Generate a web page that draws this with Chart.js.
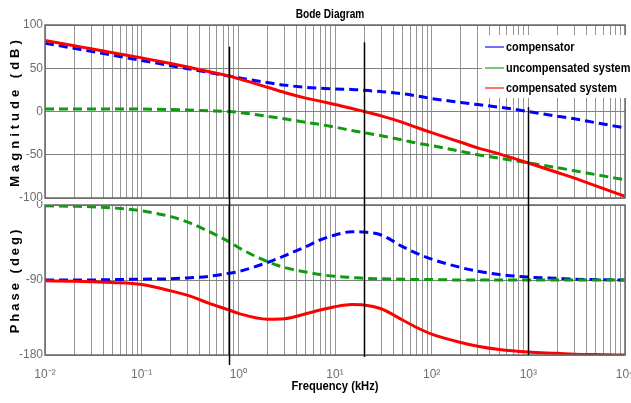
<!DOCTYPE html>
<html>
<head>
<meta charset="utf-8">
<script src="https://cdn.jsdelivr.net/npm/chart.js@4/dist/chart.umd.min.js"></script>
<style>
  body { margin: 0; background: #fff; }
  #wrap { position: relative; width: 631px; height: 403px; }
  canvas { position: absolute; left: 0; }
</style>
</head>
<body>
<div id="wrap">
  <canvas id="magChart" width="631" height="201" style="top:0"></canvas>
  <canvas id="phaseChart" width="631" height="202" style="top:201px"></canvas>
</div>
<script>
// Frequency points (kHz)
const freq = [0.01, 0.02, 0.03, 0.05, 0.1, 0.2, 0.3, 0.5, 0.8, 1, 2, 3, 5, 7, 10, 15, 20, 30, 50, 70, 100, 200, 300, 500, 1000, 2000, 3000, 5000, 10000];

// Magnitude (dB)
const compMag   = [79, 73, 69.5, 65, 59, 53, 49.5, 45, 41, 39, 33.5, 30.5, 28, 27, 26, 25.5, 24.5, 23, 20.5, 18, 15, 10.5, 8, 5, 0, -5.5, -8.5, -13, -19];
const uncompMag = [3, 3, 3, 3, 2.8, 2.3, 1.8, 0.8, 0, -1, -5.5, -8.5, -12.5, -15, -18, -22, -24.5, -28, -33, -36.5, -39.5, -46, -50, -54, -59.5, -65, -68.5, -73, -79];
const compdMag  = [82, 76, 72.5, 68, 62, 55.5, 51.5, 46, 41, 38, 28, 22, 15.5, 12, 8, 3.5, 0, -5, -12.5, -18.5, -24.5, -35.5, -42, -49, -59.5, -70.5, -77, -86, -98];

// Phase (deg)
const compPhase   = [-90, -90, -90, -89.5, -89, -88.5, -87.5, -85.5, -82, -80, -69, -61, -50, -42, -36, -32, -32.5, -36, -50, -58, -65, -75, -79.5, -83.5, -86.5, -88, -89, -89.5, -90];
const uncompPhase = [-1, -1.5, -2, -3.5, -7, -14, -20.5, -32, -44, -51, -68, -75, -80.5, -83.5, -85.5, -87, -88, -88.5, -89, -89.5, -89.5, -90, -90, -90, -90, -90, -90, -90, -90];
const compdPhase  = [-91, -91.5, -92, -93, -95.5, -103, -108.5, -118, -126, -130, -137, -136.5, -130.5, -126, -122, -119.5, -120, -124.5, -138, -147, -155, -165, -169.5, -173.5, -176.5, -178, -179, -179.5, -180];

const seriesNames = ["compensator", "uncompensated system", "compensated system"];
const seriesColors = ["#0000ff", "#119a11", "#ff0000"];

// axis ticks
const decades = [0.01, 0.1, 1, 10, 100, 1000, 10000];
const decadeLabels = ["10\u207B\u00B2", "10\u207B\u00B9", "10\u2070", "10\u00B9", "10\u00B2", "10\u00B3", "10\u2074"];
const magTicks = [-100, -50, 0, 50, 100];
const phaseTicks = [-180, -90, 0];

// black marker lines: frequency, where they start in the magnitude plot (dB), extra length below phase plot (px)
const markerFreq = [0.8, 20, 1000];
const markerTopDb = [75, 80, 5];
const markerBelow = [10, 2, 0];

// log grid lines 1..9 per decade
const gridFreqs = [];
decades.slice(0, -1).forEach((d) => {
  for (let m = 1; m < 10; m++) gridFreqs.push(+(d * m).toPrecision(3));
});
gridFreqs.push(10000);

const FONT = "'Liberation Sans', Arial, sans-serif";

function toPoints(ys) {
  return freq.map((f, i) => ({ x: f, y: ys[i] }));
}

function makeDatasets(values) {
  return values.map((ys, i) => ({
    label: seriesNames[i],
    data: toPoints(ys),
    borderColor: seriesColors[i],
    borderWidth: 3,
    borderDash: i < 2 ? [9, 5] : [],
    pointRadius: 0,
    cubicInterpolationMode: "monotone",
    order: 3 - i,
  }));
}

function decadeLabel(v) {
  const idx = decades.findIndex((d) => Math.abs(Math.log10(d) - Math.log10(v)) < 1e-6);
  return idx >= 0 ? decadeLabels[idx] : "";
}

function xScale(showLabels, height) {
  return {
    type: "logarithmic",
    min: 0.01,
    max: 10000,
    afterBuildTicks: (s) => {
      s.ticks = gridFreqs.map((v) => ({ value: v }));
    },
    afterFit: (s) => {
      s.height = height;
      s.paddingLeft = 0;
      s.paddingRight = 0;
    },
    ticks: {
      display: showLabels,
      autoSkip: false,
      maxRotation: 0,
      padding: 12,
      color: "#6e6e6e",
      font: { family: FONT, size: 12 },
      callback: (v) => decadeLabel(v),
    },
    grid: { color: "#959595", lineWidth: 1, drawTicks: false },
    border: { display: false },
  };
}

function yScale(min, max, ticks) {
  return {
    min: min,
    max: max,
    afterBuildTicks: (s) => {
      s.ticks = ticks.map((v) => ({ value: v }));
    },
    afterFit: (s) => {
      s.width = 45;
      s.paddingTop = 0;
      s.paddingBottom = 0;
    },
    ticks: {
      color: "#6e6e6e",
      padding: 2,
      font: { family: FONT, size: 12 },
    },
    grid: { color: "#808080", drawTicks: false },
    border: { display: false },
  };
}

// draws condensed text like the original figure's narrow font
function narrowText(ctx, text, x, y, squeeze) {
  ctx.save();
  ctx.translate(x, y);
  ctx.scale(squeeze, 1);
  ctx.fillText(text, 0, 0);
  ctx.restore();
}

// frame, marker lines and texts
const framePlugin = {
  id: "frame",
  afterDatasetsDraw(chart, args, opts) {
    const { ctx, chartArea: a } = chart;
    const xs = chart.scales.x;
    const ys = chart.scales.y;
    ctx.save();
    ctx.strokeStyle = "#6a6a6a";
    ctx.lineWidth = 1.5;
    ctx.strokeRect(a.left, a.top, a.right - a.left, a.bottom - a.top);

    ctx.strokeStyle = "#000";
    ctx.lineWidth = 1.5;
    markerFreq.forEach((f, i) => {
      const x = Math.round(xs.getPixelForValue(f)) + 0.5;
      const y1 = opts.top ? ys.getPixelForValue(markerTopDb[i]) : 0;
      const y2 = opts.top ? chart.height : a.bottom + markerBelow[i];
      ctx.beginPath();
      ctx.moveTo(x, y1);
      ctx.lineTo(x, y2);
      ctx.stroke();
    });

    ctx.fillStyle = "#000";
    ctx.textAlign = "center";
    ctx.textBaseline = "middle";
    ctx.font = "bold 13px " + FONT;
    if (opts.title) narrowText(ctx, opts.title, 330, 14, 0.78);
    if (opts.xTitle) narrowText(ctx, opts.xTitle, 335, chart.height - 17, 0.86);

    ctx.save();
    ctx.translate(15, (a.top + a.bottom) / 2);
    ctx.rotate(-Math.PI / 2);
    ctx.letterSpacing = opts.spacing + "px";
    ctx.fillText(opts.yTitle, 0, 0);
    ctx.restore();

    if (opts.legend) {
      ctx.fillStyle = "#fff";
      ctx.fillRect(482, 35, 149, 63);
      ctx.textAlign = "left";
      ctx.font = "bold 13px " + FONT;
      const rows = [47, 68, 88];
      chart.data.datasets.forEach((ds, i) => {
        ctx.strokeStyle = ds.borderColor;
        ctx.globalAlpha = 0.75;
        ctx.lineWidth = 1.5;
        ctx.beginPath();
        ctx.moveTo(485, rows[i]);
        ctx.lineTo(504, rows[i]);
        ctx.stroke();
        ctx.globalAlpha = 1;
        ctx.fillStyle = "#000";
        narrowText(ctx, ds.label, 506, rows[i], 0.84);
      });
    }
    ctx.restore();
  },
};

const magChart = new Chart(document.getElementById("magChart"), {
  type: "line",
  data: { datasets: makeDatasets([compMag, uncompMag, compdMag]) },
  options: {
    responsive: false,
    animation: false,
    layout: { padding: { left: 0, right: 6, top: 25, bottom: 3 } },
    scales: { x: xScale(false, 0), y: yScale(-100, 100, magTicks) },
    plugins: {
      legend: { display: false },
      tooltip: { enabled: false },
      frame: { top: true, title: "Bode Diagram", yTitle: "Magnitude (dB)", legend: true, spacing: 4 },
    },
  },
  plugins: [framePlugin],
});

const phaseChart = new Chart(document.getElementById("phaseChart"), {
  type: "line",
  data: { datasets: makeDatasets([compPhase, uncompPhase, compdPhase]) },
  options: {
    responsive: false,
    animation: false,
    layout: { padding: { left: 0, right: 6, top: 4, bottom: 0 } },
    scales: { x: xScale(true, 48), y: yScale(-180, 0, phaseTicks) },
    plugins: {
      legend: { display: false },
      tooltip: { enabled: false },
      frame: { top: false, yTitle: "Phase (deg)", xTitle: "Frequency (kHz)", spacing: 3 },
    },
  },
  plugins: [framePlugin],
});
</script>
</body>
</html>
